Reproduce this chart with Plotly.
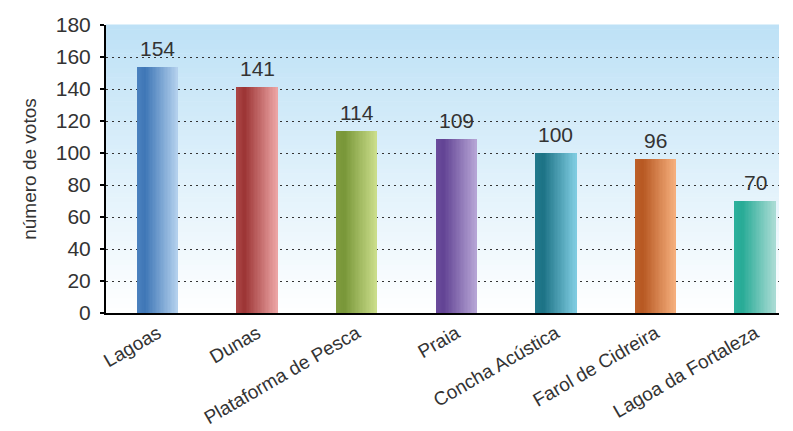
import plotly.graph_objects as go

# ---- data ----
categories = ["Lagoas", "Dunas", "Plataforma de Pesca", "Praia",
              "Concha Acústica", "Farol de Cidreira", "Lagoa da Fortaleza"]
votes = [154, 141, 114, 109, 100, 96, 70]
y_ticks = [0, 20, 40, 60, 80, 100, 120, 140, 160, 180]

# ---- styling ----
# (edge, darkest, light) colours per bar for the horizontal gradient
bar_colors = [
    ("#4c82bf", "#3e76b6", "#b5d2ee"),
    ("#ab4646", "#9c3434", "#eda6a6"),
    ("#819d40", "#789638", "#ccdf8c"),
    ("#6b4c9c", "#624394", "#b7a6d6"),
    ("#22798b", "#1c7285", "#80cde2"),
    ("#bd6029", "#b75822", "#f6b07e"),
    ("#2db09c", "#27ab96", "#abdcd5"),
]
FONT = "Liberation Sans, Arial, sans-serif"
TXT = "#333333"


def hex2rgb(h):
    h = h.lstrip("#")
    return tuple(int(h[i:i + 2], 16) for i in (0, 2, 4))


def mix(c1, c2, t):
    a, b = hex2rgb(c1), hex2rgb(c2)
    return "rgb(%d,%d,%d)" % tuple(round(a[i] + (b[i] - a[i]) * t) for i in range(3))


def grad(cols, t):
    edge, dark, light = cols
    if t < 0.2:
        return mix(edge, dark, t / 0.2)
    return mix(dark, light, (t - 0.2) / 0.8)


fig = go.Figure()

BAR_W = 0.41
N = 30
sw = BAR_W / N
for i in range(N):
    t = (i + 0.5) / N
    fig.add_trace(go.Bar(
        x=categories, y=votes,
        width=sw * 1.15,
        offset=-BAR_W / 2 + i * sw,
        marker=dict(color=[grad(c, t) for c in bar_colors], line=dict(width=0)),
        hoverinfo="skip", showlegend=False,
    ))

# value labels
annotations = [
    dict(x=c, y=v, text=str(v), showarrow=False, yanchor="bottom",
         yshift=5, font=dict(family=FONT, size=21, color=TXT))
    for c, v in zip(categories, votes)
]

# vertical gradient background of the plot area
shapes = []
NS = 60
for k in range(NS):
    t = (k + 0.5) / NS
    shapes.append(dict(
        type="rect", xref="x domain", yref="y domain",
        x0=0, x1=1, y0=k / NS, y1=(k + 1) / NS + 0.002,
        fillcolor=mix("#ffffff", "#bde1f6", t), line=dict(width=0),
        layer="below",
    ))

fig.update_layout(
    width=785, height=423,
    margin=dict(l=98, r=14, t=17, b=118, autoexpand=False),
    paper_bgcolor="white", plot_bgcolor="white",
    barmode="overlay", bargap=0,
    shapes=shapes, annotations=annotations,
    font=dict(family=FONT, color=TXT, size=19),
    xaxis=dict(
        range=[-0.52, 6.24], showline=True, linecolor="black", linewidth=2,
        ticks="", tickangle=-30, tickfont=dict(size=19, color=TXT),
        showgrid=False, zeroline=False, automargin=False,
    ),
    yaxis=dict(
        range=[0, 180], tickvals=y_ticks, showline=True, linecolor="black",
        linewidth=2, ticks="outside", ticklen=4, tickwidth=2, tickcolor="black",
        ticklabelstandoff=5,
        showgrid=True, gridcolor="#333333", griddash="2px,4px", gridwidth=1,
        zeroline=False, tickfont=dict(size=21, color=TXT), automargin=False,
        title=dict(text="número de votos", font=dict(size=19, color=TXT), standoff=14),
    ),
)

fig.write_html("out.html")
